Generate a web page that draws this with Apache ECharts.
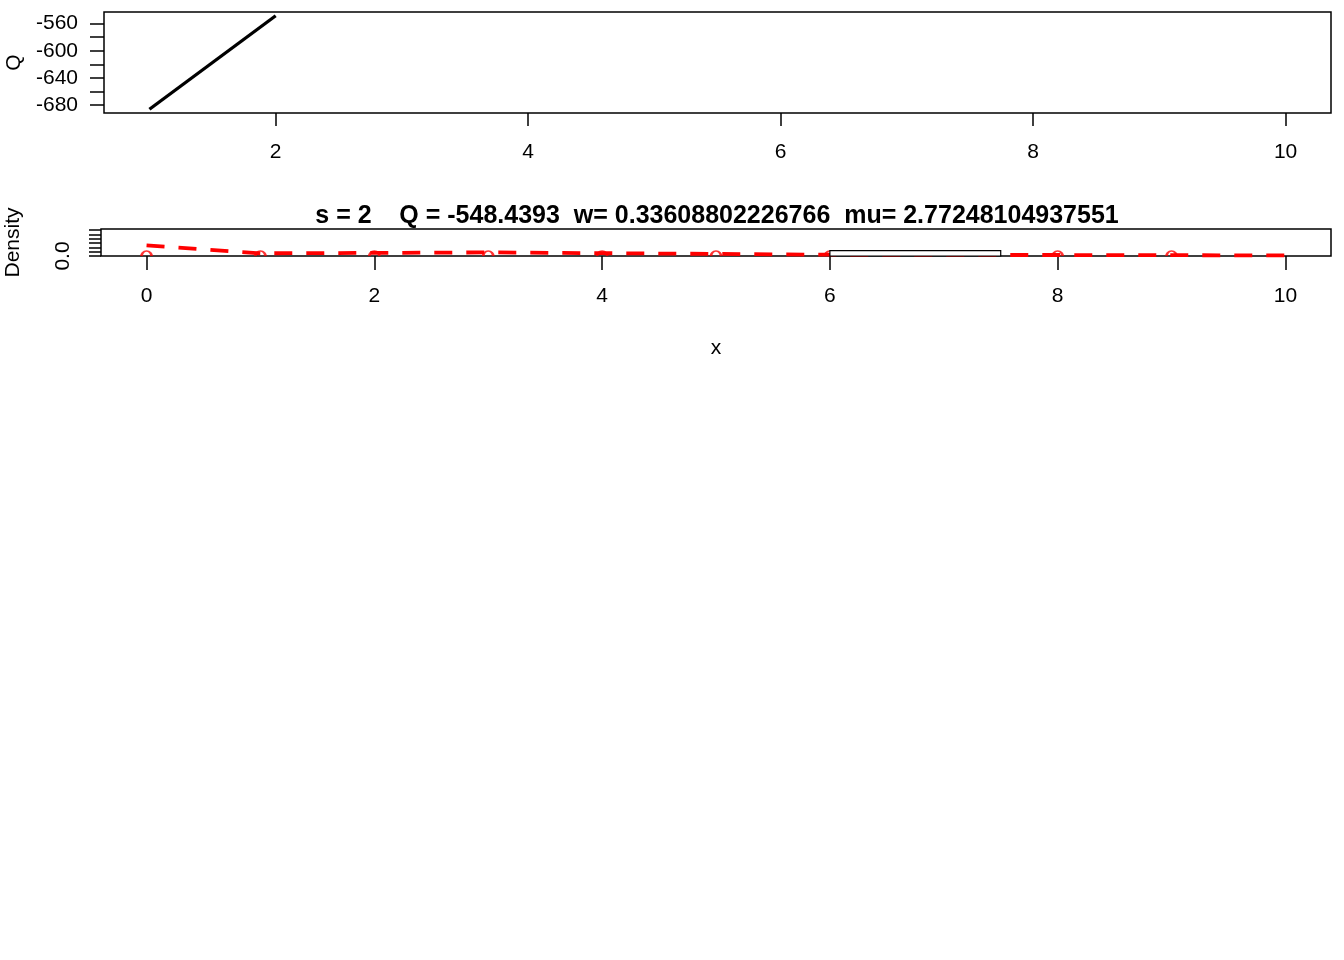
<!DOCTYPE html>
<html><head><meta charset="utf-8">
<script src="https://cdn.jsdelivr.net/npm/echarts@6/dist/echarts.min.js"></script>
<style>html,body{margin:0;padding:0;background:#fff}#c{width:1344px;height:960px}</style>
</head><body><div id="c"></div>
<script>
// ---- data ----
const sValues = [1, 2];
const qValues = [-686, -548.4393];
const topXTicks = [2, 4, 6, 8, 10];
const topYTicks = [-680, -660, -640, -620, -600, -580, -560];
const topYLabels = [-680, -640, -600, -560];

const densX = [0, 1, 2, 3, 4, 5, 6, 7, 8, 9, 10];
const densY = [0.245, 0.063, 0.072, 0.084, 0.065, 0.049, 0.030, 0.025, 0.023, 0.019, 0.014];
const obsX = [0, 1, 2, 3, 4, 5, 6, 7, 8, 9];
const histBreaks = [6, 7.5];
const histDensity = [0.123];
const botXTicks = [0, 2, 4, 6, 8, 10];
const botYTicks = [0, 0.1, 0.2, 0.3, 0.4, 0.5, 0.6];
const botYLabels = [0];
const titleText = 's = 2    Q = -548.4393  w= 0.33608802226766  mu= 2.77248104937551';

// ---- chart ----
const FONT = "'Liberation Sans', Arial, Helvetica, sans-serif";
const chart = echarts.init(document.getElementById('c'), null, {renderer: 'canvas'});

const histData = histDensity.map((d, i) => [histBreaks[i], histBreaks[i + 1], d]);

const axisTxt = {color: '#000', fontFamily: FONT, fontSize: 21};
const noLine = {show: false, onZero: false};

chart.setOption({
  backgroundColor: '#ffffff',
  animation: false,
  title: {
    text: titleText,
    left: 712, top: 199, textAlign: 'center',
    textStyle: {fontFamily: FONT, fontSize: 25, fontWeight: 'bold', color: '#000'}
  },
  grid: [
    {left: 104, right: 13, top: 12, height: 101, show: true, borderColor: '#000', borderWidth: 1.5,
     backgroundColor: 'transparent', containLabel: false, outerBoundsMode: 'none'},
    {left: 101, right: 13, top: 229, height: 27, show: true, borderColor: '#000', borderWidth: 1.5,
     backgroundColor: 'transparent', containLabel: false, outerBoundsMode: 'none'}
  ],
  xAxis: [
    {
      type: 'value', gridIndex: 0, min: 0.64, max: 10.36,
      axisLine: noLine, splitLine: {show: false},
      axisTick: {show: true, length: 13, customValues: topXTicks, lineStyle: {color: '#000', width: 1.5}},
      axisLabel: Object.assign({show: true, margin: 28.5, customValues: topXTicks}, axisTxt)
    },
    {
      type: 'value', gridIndex: 1, min: -0.4, max: 10.4,
      axisLine: noLine, splitLine: {show: false},
      axisTick: {show: true, length: 14, customValues: botXTicks, lineStyle: {color: '#000', width: 1.5}},
      axisLabel: Object.assign({show: true, margin: 29.5, customValues: botXTicks}, axisTxt),
      name: 'x', nameLocation: 'middle', nameGap: 81.5,
      nameTextStyle: axisTxt
    }
  ],
  yAxis: [
    {
      type: 'value', gridIndex: 0, min: -691.5, max: -542.94,
      axisLine: noLine, splitLine: {show: false},
      axisTick: {show: true, length: 14, customValues: topYTicks, lineStyle: {color: '#000', width: 1.5}},
      axisLabel: Object.assign({show: true, margin: 26, customValues: topYLabels, padding: [2, 0, 0, 0]}, axisTxt),
      name: 'Q', nameLocation: 'middle', nameRotate: 90, nameGap: 78.5,
      nameTextStyle: axisTxt
    },
    {
      type: 'value', gridIndex: 1, min: 0, max: 0.628,
      axisLine: noLine, splitLine: {show: false},
      axisTick: {show: true, length: 12, customValues: botYTicks, lineStyle: {color: '#000', width: 1.5}},
      axisLabel: Object.assign({show: true, margin: 27, rotate: 90, customValues: botYLabels,
        formatter: v => Number(v).toFixed(1)}, axisTxt),
      name: 'Density', nameLocation: 'middle', nameRotate: 90, nameGap: 77.5,
      nameTextStyle: axisTxt
    }
  ],
  series: [
    {
      type: 'line', xAxisIndex: 0, yAxisIndex: 0,
      data: sValues.map((s, i) => [s, qValues[i]]),
      showSymbol: false, symbol: 'none',
      lineStyle: {color: '#000', width: 3.3}
    },
    {
      type: 'line', xAxisIndex: 1, yAxisIndex: 1,
      data: densX.map((x, i) => [x, densY[i]]),
      showSymbol: false, symbol: 'none', z: 3,
      lineStyle: {color: '#ff0000', width: 3.8, type: [18, 14]}
    },
    {
      type: 'scatter', xAxisIndex: 1, yAxisIndex: 1,
      data: obsX.map(x => [x, 0]), z: 4,
      symbol: 'path://M0,10 A10,10 0 0 1 20,10',
      symbolSize: [10, 5], symbolOffset: [0, -2.5],
      itemStyle: {color: 'rgba(0,0,0,0)', borderColor: '#ff0000', borderWidth: 2}
    },
    {
      type: 'custom', xAxisIndex: 1, yAxisIndex: 1, z: 10,
      data: histData,
      renderItem: function (params, api) {
        const p0 = api.coord([api.value(0), api.value(2)]);
        const p1 = api.coord([api.value(1), 0]);
        return {
          type: 'rect',
          shape: {x: p0[0], y: p0[1], width: p1[0] - p0[0], height: p1[1] - p0[1]},
          style: {fill: '#ffffff', stroke: '#000', lineWidth: 1.2}
        };
      }
    }
  ]
});
</script>
</body></html>
